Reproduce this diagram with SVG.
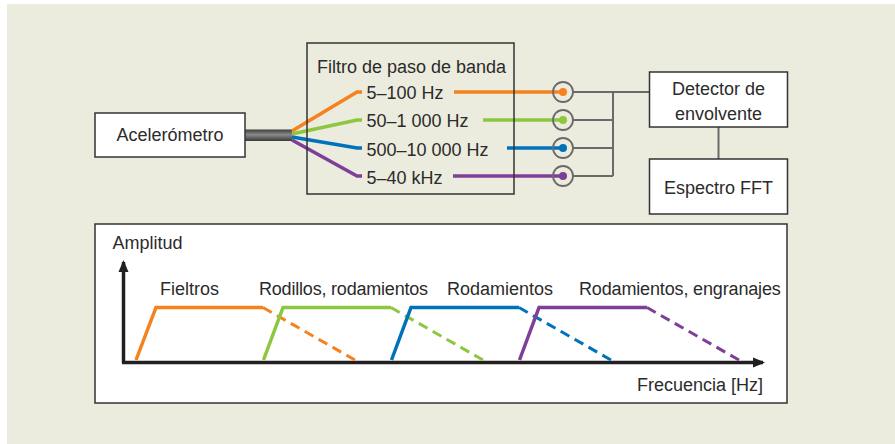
<svg xmlns="http://www.w3.org/2000/svg" width="895" height="444" viewBox="0 0 895 444">
<defs>
<style>
text{font-family:"Liberation Sans",Arial,sans-serif;font-size:18px;fill:#2b2b2b}
.box{fill:#fff;stroke:#333;stroke-width:1.5}
.gl{fill:none;stroke:#6a6a6a;stroke-width:2}
.c{fill:none;stroke-width:3.5;stroke-linejoin:miter}
.d{fill:none;stroke-width:3;stroke-dasharray:10 6}
.o{stroke:#f5821f}.g{stroke:#8dc63f}.b{stroke:#0072bc}.p{stroke:#7e3f98}
.ax{fill:none;stroke:#231f20;stroke-width:3.5}
</style>
<linearGradient id="cable" x1="0" y1="0" x2="0" y2="1">
<stop offset="0" stop-color="#3d3d3d"/>
<stop offset="0.45" stop-color="#8a8a8a"/>
<stop offset="1" stop-color="#3a3a3a"/>
</linearGradient>
<marker id="ah" markerWidth="12" markerHeight="12" refX="10" refY="5" orient="auto" markerUnits="userSpaceOnUse" viewBox="0 0 12 10">
<path d="M0,0 L12,5 L0,10 Z" fill="#231f20"/>
</marker>
</defs>
<rect x="7" y="4" width="888" height="440" fill="#ebebde"/>

<g id="connectors">
<rect x="245" y="129.5" width="47" height="11.5" fill="url(#cable)"/>
<polyline class="c o" points="292,131 357,92 362,92"/>
<polyline class="c g" points="292,134 357,120 362,120"/>
<polyline class="c b" points="292,137 357,148 362,148"/>
<polyline class="c p" points="292,140 357,176 362,176"/>
<line class="c o" x1="454" y1="92" x2="563" y2="92"/>
<line class="c g" x1="483" y1="120" x2="563" y2="120"/>
<line class="c b" x1="507" y1="148" x2="563" y2="148"/>
<line class="c p" x1="453" y1="176" x2="563" y2="176"/>
<path class="gl" d="M573,92 H649 M573,120 H613 M573,148 H613 M573,176 H613 M613,92 V176"/>
<line class="gl" x1="718.5" y1="127" x2="718.5" y2="159"/>
</g>

<g id="acelerometro">
<rect class="box" x="95" y="113" width="150" height="44"/>
<text x="170" y="141" text-anchor="middle">Acelerómetro</text>
</g>

<g id="filtro">
<rect x="307" y="43" width="207" height="151" fill="none" stroke="#333" stroke-width="1.5"/>
<text x="317" y="72.5">Filtro de paso de banda</text>
<text x="366.5" y="99">5–100 Hz</text>
<text x="366.5" y="127">50–1 000 Hz</text>
<text x="366.5" y="155.5">500–10 000 Hz</text>
<text x="366.5" y="183.5">5–40 kHz</text>
</g>

<g id="salidas">
<circle cx="563" cy="92" r="10" fill="none" stroke="#6a6a6a" stroke-width="1.8"/>
<circle cx="563" cy="120" r="10" fill="none" stroke="#6a6a6a" stroke-width="1.8"/>
<circle cx="563" cy="148" r="10" fill="none" stroke="#6a6a6a" stroke-width="1.8"/>
<circle cx="563" cy="176" r="10" fill="none" stroke="#6a6a6a" stroke-width="1.8"/>
<circle cx="563" cy="92" r="4" fill="#f5821f"/>
<circle cx="563" cy="120" r="4" fill="#8dc63f"/>
<circle cx="563" cy="148" r="4" fill="#0072bc"/>
<circle cx="563" cy="176" r="4" fill="#7e3f98"/>
</g>

<g id="detector">
<rect class="box" x="649.5" y="72" width="138" height="55"/>
<text x="718.5" y="95" text-anchor="middle">Detector de</text>
<text x="718.5" y="120" text-anchor="middle">envolvente</text>
</g>

<g id="espectro">
<rect class="box" x="649.5" y="159" width="138" height="55"/>
<text x="718.5" y="194" text-anchor="middle">Espectro FFT</text>
</g>

<g id="grafico">
<rect class="box" x="95" y="224" width="692" height="179"/>
<text x="112.5" y="249">Amplitud</text>
<line class="ax" x1="123.5" y1="363" x2="123.5" y2="262" marker-end="url(#ah)"/>
<line class="ax" x1="122" y1="362.5" x2="763" y2="362.5" marker-end="url(#ah)"/>
<text x="160" y="295">Fieltros</text>
<text x="259" y="295" letter-spacing="-0.2">Rodillos, rodamientos</text>
<text x="447" y="295">Rodamientos</text>
<text x="579" y="295" letter-spacing="-0.15">Rodamientos, engranajes</text>
<text x="763" y="391" text-anchor="end">Frecuencia [Hz]</text>
<polyline class="c o" points="136,360 156,307.5 263,307.5"/>
<line class="d o" x1="263" y1="307.5" x2="355" y2="360"/>
<polyline class="c g" points="263.5,360 283,307.5 391,307.5"/>
<line class="d g" x1="391" y1="307.5" x2="483" y2="360"/>
<polyline class="c b" points="391.5,360 411,307.5 519,307.5"/>
<line class="d b" x1="519" y1="307.5" x2="611" y2="360"/>
<polyline class="c p" points="519.5,360 539,307.5 647,307.5"/>
<line class="d p" x1="647" y1="307.5" x2="739" y2="360"/>
</g>
</svg>
